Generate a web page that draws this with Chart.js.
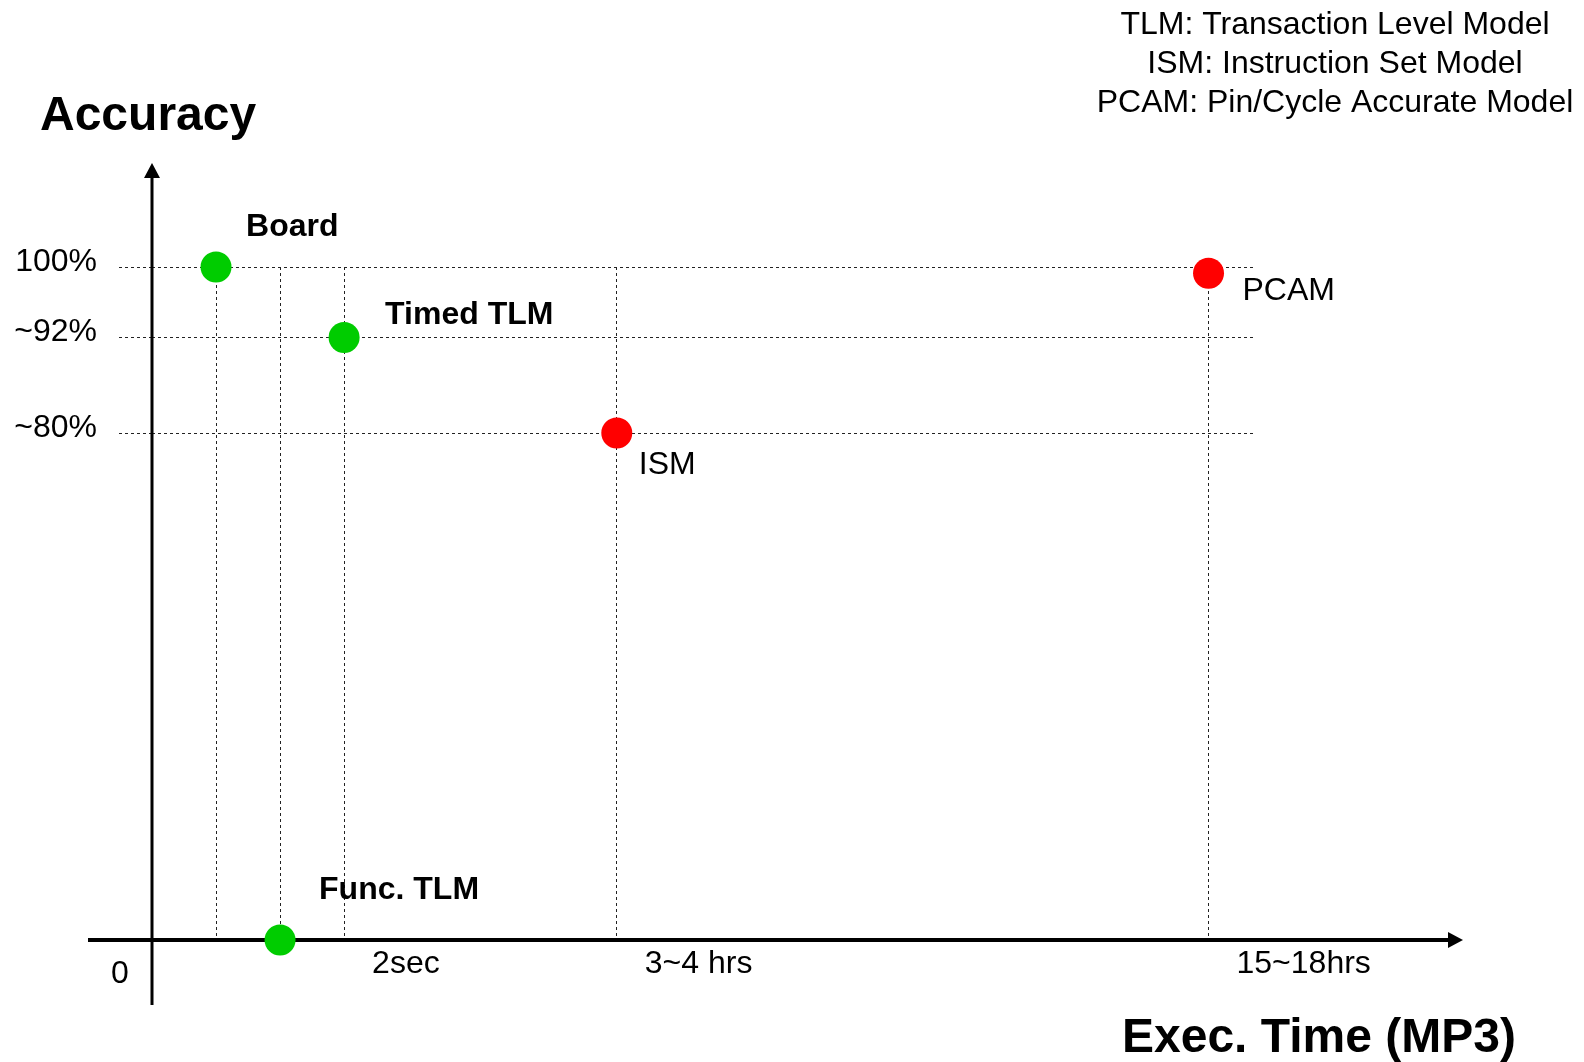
<!DOCTYPE html>
<html>
<head>
<meta charset="utf-8">
<script src="https://cdn.jsdelivr.net/npm/chart.js@4/dist/chart.umd.min.js"></script>
<style>
  body { margin: 0; background: #fff; }
  canvas { display: block; }
</style>
</head>
<body>
<canvas id="myChart" width="1584" height="1062"></canvas>
<script>
// models, left to right on the time axis
const models = ['Board', 'Func. TLM', 'Timed TLM', 'ISM', 'PCAM']
// position on the (not to scale) exec time axis, 0..100
const execTime = [5.8, 11.6, 17.4, 42.1, 95.7]
// accuracy in %
const accuracy = [100, 0, 92, 80, 99.3]
const timeLabels = ['', '', '2sec', '3~4 hrs', '15~18hrs']
const accTicks = [100, 92, 80]
const accLabels = ['100%', '~92%', '~80%']
const notes = ['TLM: Transaction Level Model', 'ISM: Instruction Set Model', 'PCAM: Pin/Cycle Accurate Model']

const FONT = '"Liberation Sans", Arial, sans-serif'
const green = 'rgb(0,204,0)'
const red = 'rgb(255,0,0)'
const pointColors = [green, green, green, red, red]
const boldName = [true, true, true, false, false]
// where each name sits relative to its dot (text left, text middle)
const nameOffset = [[30, -40], [39, -50], [41, -22], [22, 32], [34, 18]]

// the accuracy axis of the slide is not to scale: piecewise linear
const accStops = [0, 80, 92, 100]
const accFrac = [0, 0.7533, 0.8952, 1]
function interp(v, xs, ys){
    for(let i = 1; i < xs.length; i++){
        if(v <= xs[i] || i === xs.length - 1){
            const t = (v - xs[i-1]) / (xs[i] - xs[i-1])
            return ys[i-1] + t * (ys[i] - ys[i-1])
        }
    }
}
class SlideScale extends Chart.LinearScale {
    getPixelForValue(value){
        if(value === null || value === undefined) return NaN
        return this.getPixelForDecimal(interp(value, accStops, accFrac))
    }
    getValueForPixel(pixel){
        return interp(this.getDecimalForPixel(pixel), accFrac, accStops)
    }
}
SlideScale.id = 'slide'
SlideScale.defaults = Chart.LinearScale.defaults
Chart.register(SlideScale)

const decorations = {
    id: 'decorations',
    beforeDatasetsDraw(chart){
        const c = chart.ctx
        const x0 = chart.scales.x.getPixelForValue(0)
        const y0 = chart.scales.y.getPixelForValue(0)
        c.save()
        c.strokeStyle = '#000'
        c.fillStyle = '#000'
        // y axis
        c.lineWidth = 3
        c.beginPath()
        c.moveTo(x0, 1005)
        c.lineTo(x0, 176)
        c.stroke()
        c.beginPath()
        c.moveTo(x0, 163)
        c.lineTo(x0 - 8, 178)
        c.lineTo(x0 + 8, 178)
        c.closePath()
        c.fill()
        // x axis
        c.lineWidth = 4
        c.beginPath()
        c.moveTo(88, y0)
        c.lineTo(1450, y0)
        c.stroke()
        c.beginPath()
        c.moveTo(1463, y0)
        c.lineTo(1448, y0 - 8)
        c.lineTo(1448, y0 + 8)
        c.closePath()
        c.fill()
        c.restore()
    },
    afterDraw(chart){
        const c = chart.ctx
        const meta = chart.getDatasetMeta(0)
        c.save()
        c.fillStyle = '#000'
        c.textBaseline = 'middle'
        c.textAlign = 'left'
        meta.data.forEach((pt, i) => {
            c.font = (boldName[i] ? 'bold ' : '') + '32px ' + FONT
            c.fillText(models[i], pt.x + nameOffset[i][0], pt.y + nameOffset[i][1])
        })
        // axis titles
        c.font = 'bold 48px ' + FONT
        c.fillText('Accuracy', 40, 117)
        c.fillText('Exec. Time (MP3)', 1122, 1039)
        // origin
        c.font = '32px ' + FONT
        c.textAlign = 'center'
        c.fillText('0', 120, 974)
        // abbreviations
        notes.forEach((t, i) => c.fillText(t, 1335, 25 + i * 39))
        c.restore()
    }
}

const ctx = document.getElementById('myChart')
new Chart(ctx, {
    type: 'scatter',
    data: {
        datasets: [{
            label: 'Models',
            data: models.map((m, i) => ({x: execTime[i], y: accuracy[i]})),
            backgroundColor: pointColors,
            borderWidth: 0,
            pointRadius: 15.5,
            pointHoverRadius: 15.5,
            clip: false
        }]
    },
    options: {
        responsive: false,
        animation: false,
        events: [],
        layout: { padding: { top: 267, right: 328, bottom: 0, left: 0 } },
        plugins: { legend: { display: false }, tooltip: { enabled: false } },
        scales: {
            x: {
                type: 'linear',
                min: 0,
                max: 100,
                afterFit(scale){ scale.height = 122 },
                afterBuildTicks(scale){ scale.ticks = execTime.map(v => ({value: v})) },
                border: { display: false, dash: [3, 3] },
                grid: {
                    color: '#222',
                    lineWidth: 1,
                    drawTicks: false
                },
                ticks: {
                    autoSkip: false,
                    maxRotation: 0,
                    align: 'start',
                    labelOffset: 28,
                    padding: 5,
                    color: '#000',
                    font: { family: FONT, size: 32 },
                    callback: (v, i) => timeLabels[i]
                }
            },
            y: {
                type: 'slide',
                min: 0,
                max: 100,
                afterFit(scale){ scale.width = 152 },
                afterBuildTicks(scale){ scale.ticks = accTicks.map(v => ({value: v})) },
                border: { display: false, dash: [3, 3] },
                grid: {
                    color: '#222',
                    lineWidth: 1,
                    tickColor: '#222',
                    tickBorderDash: [3, 3],
                    tickLength: 33
                },
                ticks: {
                    padding: 22,
                    labelOffset: -5,
                    color: '#000',
                    font: { family: FONT, size: 32 },
                    callback: (v, i) => accLabels[i]
                }
            }
        }
    },
    plugins: [decorations]
})
</script>
</body>
</html>
